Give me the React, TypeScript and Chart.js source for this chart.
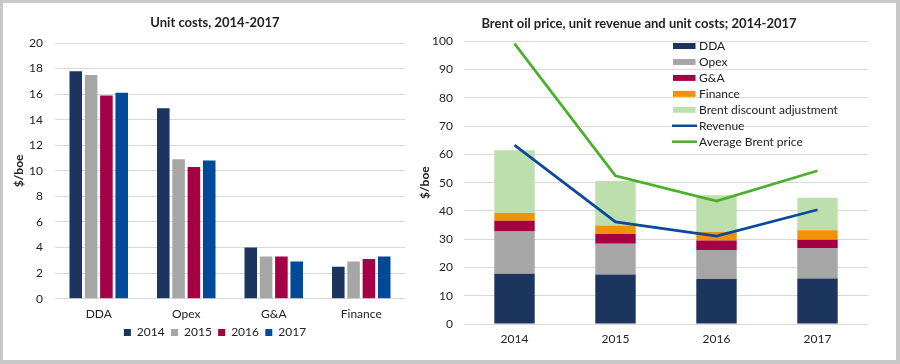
import React, { useEffect, useRef } from "react";
import { Chart, registerables } from "chart.js";

Chart.register(...registerables);

// ---------- Data ----------
const costCategories = ["DDA", "Opex", "G&A", "Finance"];
const costYears = ["2014", "2015", "2016", "2017"];
const costs2014 = [17.8, 14.9, 4.0, 2.5];
const costs2015 = [17.5, 10.9, 3.3, 2.9];
const costs2016 = [15.9, 10.3, 3.3, 3.1];
const costs2017 = [16.1, 10.8, 2.9, 3.3];

const brentYears = ["2014", "2015", "2016", "2017"];
const stackDDA = [17.8, 17.5, 15.9, 16.1];
const stackOpex = [14.9, 10.9, 10.3, 10.8];
const stackGA = [3.8, 3.4, 3.3, 2.9];
const stackFinance = [2.8, 3.0, 3.0, 3.4];
const stackDiscount = [22.2, 15.8, 13.0, 11.5];
const revenue = [63.3, 36.1, 31.1, 40.4];
const avgBrent = [99.2, 52.4, 43.5, 54.2];

const leftYTicks = { min: 0, max: 20, step: 2 };
const rightYTicks = { min: 0, max: 100, step: 10 };

// ---------- Styles ----------
const C_NAVY = "#1c355e";
const C_GRAY = "#a6a6a6";
const C_CRIMSON = "#a50044";
const C_BLUE = "#004a97";
const C_ORANGE = "#f39200";
const C_LGREEN = "#bcdfad";
const C_REV = "#0b4a9a";
const C_BRENT = "#4caf2c";
const GRID = "#d9d9d9";
const TEXT = "#222222";
const FONT = "Lato";

Chart.defaults.font.family = FONT;
Chart.defaults.color = TEXT;

const rightLegendPlugin = {
  id: "rightLegend",
  afterDraw(chart: any) {
    const ctx = chart.ctx;
    const x0 = 263;
    const y0 = 43;
    const step = 15.95;
    ctx.save();
    ctx.font = `12px ${FONT}`;
    ctx.textBaseline = "middle";
    ctx.textAlign = "left";
    chart.data.datasets.forEach((ds: any, i: number) => {
      const y = y0 + i * step;
      if (ds.type === "line") {
        ctx.strokeStyle = ds.borderColor;
        ctx.lineWidth = 2.5;
        ctx.beginPath();
        ctx.moveTo(x0 - 1, y);
        ctx.lineTo(x0 + 24, y);
        ctx.stroke();
      } else {
        ctx.fillStyle = ds.backgroundColor;
        ctx.fillRect(x0, y - 3, 22.5, 6);
      }
      ctx.fillStyle = TEXT;
      ctx.fillText(ds.label, x0 + 26, y);
    });
    ctx.restore();
  },
};

function LeftChart() {
  const ref = useRef<HTMLCanvasElement | null>(null);
  useEffect(() => {
    if (!ref.current) return;
    const chart = new Chart(ref.current, {
      type: "bar",
      data: {
        labels: costCategories,
        datasets: [
          { label: costYears[0], data: costs2014, backgroundColor: C_NAVY },
          { label: costYears[1], data: costs2015, backgroundColor: C_GRAY },
          { label: costYears[2], data: costs2016, backgroundColor: C_CRIMSON },
          { label: costYears[3], data: costs2017, backgroundColor: C_BLUE },
        ],
      },
      options: {
        responsive: false,
        animation: false,
        layout: { padding: { left: 0, right: 3, top: 0, bottom: 11.5 } },
        datasets: { bar: { barPercentage: 0.82, categoryPercentage: 0.7 } },
        plugins: {
          tooltip: { enabled: false },
          title: {
            display: true,
            text: "Unit costs, 2014-2017",
            font: { size: 13, weight: "bold" },
            color: TEXT,
            padding: { top: 12.2, bottom: 12.2 },
          },
          legend: {
            position: "bottom",
            labels: {
              boxWidth: 7,
              boxHeight: 7,
              padding: 6.3,
              font: { size: 12 },
              color: TEXT,
            },
          },
        },
        scales: {
          x: {
            grid: { display: false, drawTicks: false },
            border: { display: false },
            ticks: { padding: 7.8, font: { size: 12 }, color: TEXT },
            afterFit: (s: any) => {
              s.height = 21.5;
            },
          },
          y: {
            min: leftYTicks.min,
            max: leftYTicks.max,
            ticks: { stepSize: leftYTicks.step, padding: 12, font: { size: 12 }, color: TEXT },
            grid: { color: GRID, drawTicks: false },
            border: { display: false },
            title: {
              display: true,
              text: "$/boe",
              font: { size: 12, weight: "bold" },
              color: TEXT,
              padding: { top: 9, bottom: 0 },
            },
            afterFit: (s: any) => {
              s.width = 52;
            },
          },
          yr: {
            position: "right",
            display: true,
            grid: { display: false },
            border: { display: false },
            ticks: { display: false },
            afterFit: (s: any) => {
              s.width = 22;
            },
          },
        },
      } as any,
    });
    return () => chart.destroy();
  }, []);
  return (
    <canvas
      ref={ref}
      width={427}
      height={357}
      style={{ position: "absolute", left: 0, top: 0, width: 427, height: 357 }}
    />
  );
}

function RightChart() {
  const ref = useRef<HTMLCanvasElement | null>(null);
  useEffect(() => {
    if (!ref.current) return;
    const chart = new Chart(ref.current, {
      type: "bar",
      data: {
        labels: brentYears,
        datasets: [
          { type: "bar", label: "DDA", data: stackDDA, backgroundColor: C_NAVY, stack: "costs", order: 2 },
          { type: "bar", label: "Opex", data: stackOpex, backgroundColor: C_GRAY, stack: "costs", order: 2 },
          { type: "bar", label: "G&A", data: stackGA, backgroundColor: C_CRIMSON, stack: "costs", order: 2 },
          { type: "bar", label: "Finance", data: stackFinance, backgroundColor: C_ORANGE, stack: "costs", order: 2 },
          {
            type: "bar",
            label: "Brent discount adjustment",
            data: stackDiscount,
            backgroundColor: C_LGREEN,
            stack: "costs",
            order: 2,
          },
          {
            type: "line",
            label: "Revenue",
            data: revenue,
            borderColor: C_REV,
            backgroundColor: C_REV,
            borderWidth: 2.75,
            pointRadius: 0,
            tension: 0,
            stack: "rev",
            order: 1,
          },
          {
            type: "line",
            label: "Average Brent price",
            data: avgBrent,
            borderColor: C_BRENT,
            backgroundColor: C_BRENT,
            borderWidth: 2.75,
            pointRadius: 0,
            tension: 0,
            stack: "brent",
            order: 0,
          },
        ],
      },
      options: {
        responsive: false,
        animation: false,
        layout: { padding: { left: 0, right: 28, top: 0, bottom: 13.8 } },
        datasets: { bar: { barPercentage: 0.4, categoryPercentage: 1.0 } },
        plugins: {
          tooltip: { enabled: false },
          legend: { display: false },
          title: {
            display: true,
            text: "Brent oil price, unit revenue and unit costs; 2014-2017",
            font: { size: 13, weight: "bold" },
            color: TEXT,
            padding: { top: 13.2, bottom: 9.5 },
          },
        },
        scales: {
          x: {
            stacked: true,
            grid: { display: false, drawTicks: false },
            border: { display: false },
            ticks: { padding: 7.8, font: { size: 12 }, color: TEXT },
            afterFit: (s: any) => {
              s.height = 22.2;
            },
          },
          y: {
            stacked: true,
            min: rightYTicks.min,
            max: rightYTicks.max,
            ticks: { stepSize: rightYTicks.step, padding: 11, font: { size: 12 }, color: TEXT },
            grid: { color: GRID, drawTicks: false },
            border: { display: false },
            title: {
              display: true,
              text: "$/boe",
              font: { size: 12, weight: "bold" },
              color: TEXT,
              padding: { top: 8, bottom: 0 },
            },
            afterFit: (s: any) => {
              s.width = 54;
            },
          },
        },
      } as any,
      plugins: [rightLegendPlugin],
    });
    return () => chart.destroy();
  }, []);
  return (
    <canvas
      ref={ref}
      width={486}
      height={357}
      style={{ position: "absolute", left: 407, top: 0, width: 486, height: 357 }}
    />
  );
}

export default function App() {
  return (
    <div
      style={{
        position: "fixed",
        left: 0,
        top: 0,
        width: 900,
        height: 364,
        background: "#c8c8c8",
        overflow: "hidden",
      }}
    >
      <div
        style={{
          position: "absolute",
          left: 3,
          top: 3,
          width: 893,
          height: 357,
          background: "#ffffff",
        }}
      >
        <LeftChart />
        <RightChart />
      </div>
    </div>
  );
}
